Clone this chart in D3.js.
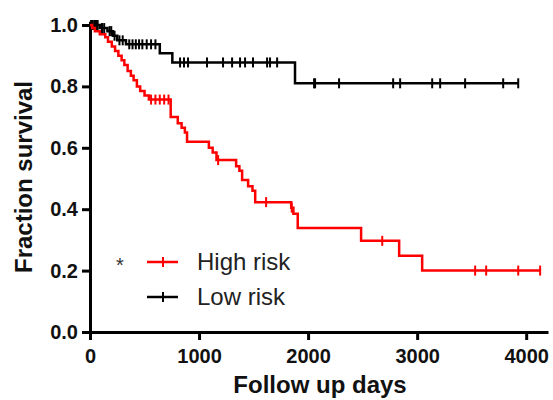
<!DOCTYPE html>
<html>
<head>
<meta charset="utf-8">
<script src="https://cdn.jsdelivr.net/npm/d3@7"></script>
<style>
  html, body { margin: 0; padding: 0; background: #fff; }
  svg { display: block; }
</style>
</head>
<body>
<div id="chart"></div>
<script>
// Kaplan-Meier steps
const highDays = [20, 45, 90, 140, 165, 200, 230, 260, 290, 315, 345, 375, 400, 430, 460, 500, 540,
  740, 805, 840, 870, 890, 1090, 1125, 1160, 1340, 1370, 1395, 1450, 1490, 1515, 1845, 1865, 1905,
  2486, 2835, 3046];
const highSurv = [0.99, 0.98, 0.97, 0.96, 0.945, 0.93, 0.915, 0.90, 0.885, 0.87, 0.85, 0.835, 0.82, 0.80, 0.785, 0.77, 0.757,
  0.70, 0.68, 0.665, 0.65, 0.62, 0.60, 0.585, 0.56, 0.54, 0.525, 0.495, 0.475, 0.46, 0.423, 0.405, 0.385, 0.339,
  0.297, 0.248, 0.20];
const highCensor = [560, 600, 640, 680, 720, 1175, 1615, 1850, 2680, 3532, 3633, 3927, 4128];

const lowDays = [90, 160, 210, 250, 330, 640, 755, 1880];
const lowSurv = [0.99, 0.98, 0.965, 0.95, 0.937, 0.908, 0.878, 0.81];
const lowCensor = [10, 25, 40, 55, 70, 110, 130, 180, 195, 225, 270, 300, 360, 390, 420, 450, 480, 520, 560, 600,
  826, 862, 899, 1073, 1220, 1303, 1376, 1422, 1495, 1624, 1651, 1716,
  2055, 2064, 2284, 2780, 2844, 3138, 3211, 3440, 3789, 3927];

const xTicks = [0, 1000, 2000, 3000, 4000];
const yTicks = [0, 0.2, 0.4, 0.6, 0.8, 1.0];
const legendLabels = ["High risk", "Low risk"];
const colors = ["#ff0000", "#000000"];

const width = 553, height = 400;
const svg = d3.select("#chart").append("svg")
  .attr("width", width).attr("height", height)
  .style("background", "#fff");

const x = d3.scaleLinear().domain([0, 4200]).range([90, 548]);
const y = d3.scaleLinear().domain([0, 1.012]).range([332, 21.3]);

const font = "Arial, 'Liberation Sans', sans-serif";

// axes
const yAxis = svg.append("g").attr("transform", "translate(90,0)")
  .call(d3.axisLeft(y).tickValues(yTicks).tickFormat(d3.format(".1f")).tickSize(8).tickSizeOuter(0).tickPadding(4));
const xAxis = svg.append("g").attr("transform", "translate(0,332)")
  .call(d3.axisBottom(x).tickValues(xTicks).tickFormat(d3.format("d")).tickSize(8).tickSizeOuter(0).tickPadding(6));

[yAxis, xAxis].forEach(g => {
  g.select(".domain").attr("stroke", "#000").attr("stroke-width", 3);
  g.selectAll(".tick line").attr("stroke", "#000").attr("stroke-width", 3);
  g.selectAll(".tick text")
    .attr("fill", "#111")
    .style("font-family", font)
    .style("font-size", "20px")
    .style("font-weight", "bold");
});
xAxis.selectAll(".tick text").attr("dy", "0.85em");

// axis titles
svg.append("text")
  .attr("x", 320).attr("y", 393)
  .attr("text-anchor", "middle")
  .style("font-family", font).style("font-size", "24px").style("font-weight", "bold")
  .attr("fill", "#111")
  .text("Follow up days");

svg.append("text")
  .attr("transform", "translate(32,177) rotate(-90)")
  .attr("text-anchor", "middle")
  .style("font-family", font).style("font-size", "24px").style("font-weight", "bold")
  .attr("fill", "#111")
  .text("Fraction survival");

// survival curves
function survAt(days, surv, t) {
  let s = 1;
  days.forEach((d, i) => { if (d <= t) s = surv[i]; });
  return s;
}

const groups = [
  { days: highDays, surv: highSurv, censor: highCensor, color: colors[0] },
  { days: lowDays, surv: lowSurv, censor: lowCensor, color: colors[1] }
];

const line = d3.line()
  .x(d => x(d[0]))
  .y(d => y(d[1]))
  .curve(d3.curveStepAfter);

groups.slice().reverse().forEach(g => {
  const end = d3.max(g.censor);
  const pts = [[0, 1]].concat(g.days.map((d, i) => [d, g.surv[i]]));
  pts.push([end, g.surv[g.surv.length - 1]]);

  svg.append("path")
    .datum(pts)
    .attr("d", line)
    .attr("fill", "none")
    .attr("stroke", g.color)
    .attr("stroke-width", 2.5);

  svg.selectAll(null)
    .data(g.censor)
    .enter()
    .append("line")
    .attr("x1", d => x(d)).attr("x2", d => x(d))
    .attr("y1", d => y(survAt(g.days, g.surv, d)) - 5)
    .attr("y2", d => y(survAt(g.days, g.surv, d)) + 5)
    .attr("stroke", g.color)
    .attr("stroke-width", 2);
});

// legend
const legend = svg.append("g");
legendLabels.forEach((lab, i) => {
  const ly = 262 + i * 35;
  legend.append("line")
    .attr("x1", 147).attr("x2", 178).attr("y1", ly).attr("y2", ly)
    .attr("stroke", colors[i]).attr("stroke-width", 2.5);
  legend.append("line")
    .attr("x1", 163).attr("x2", 163).attr("y1", ly - 5).attr("y2", ly + 5)
    .attr("stroke", colors[i]).attr("stroke-width", 2);
  legend.append("text")
    .attr("x", 197).attr("y", ly + 8)
    .style("font-family", font).style("font-size", "24px")
    .attr("fill", "#222")
    .text(lab);
});
legend.append("text")
  .attr("x", 120).attr("y", 272)
  .attr("text-anchor", "middle")
  .style("font-family", font).style("font-size", "20px")
  .attr("fill", "#333")
  .text("*");
</script>
</body>
</html>
